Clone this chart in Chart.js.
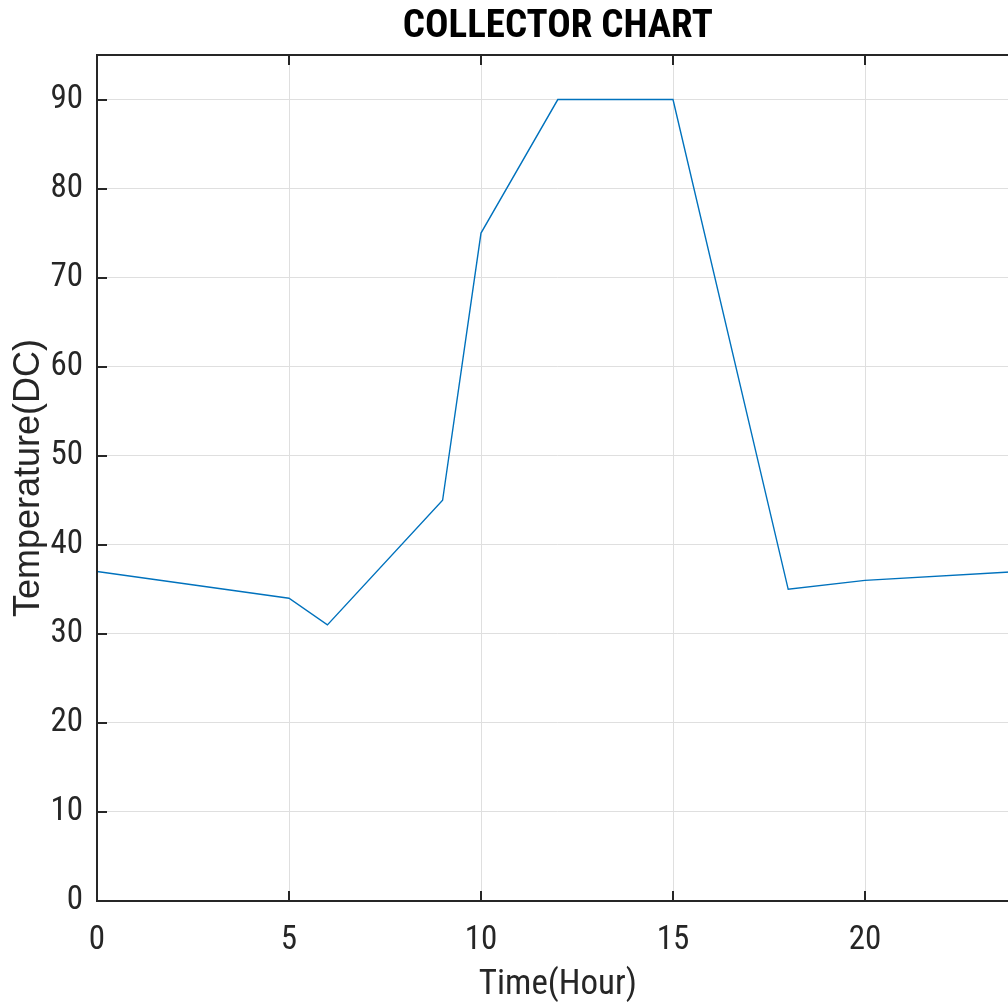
<!DOCTYPE html>
<html>
<head>
<meta charset="utf-8">
<script src="https://cdn.jsdelivr.net/npm/chart.js@4.4.1/dist/chart.umd.min.js"></script>
<style>
  html, body { margin: 0; padding: 0; background: #fff; overflow: hidden; }
  #wrap { width: 1008px; height: 1005px; overflow: hidden; }
</style>
</head>
<body>
<div id="wrap"><canvas id="collectorChart" width="1020" height="1005"></canvas></div>
<script>
// collector temperature over the day
const hours = [0, 5, 6, 9, 10, 12, 15, 18, 20, 24];
const temps = [37, 34, 31, 45, 75, 90, 90, 35, 36, 37];
const xTicks = [0, 5, 10, 15, 20];
const yTicks = [0, 10, 20, 30, 40, 50, 60, 70, 80, 90];

const FONT = "'Roboto Condensed', 'Liberation Sans Narrow', Roboto, sans-serif";
const INK = '#262626';

// box + inward tick marks, matlab style
const frame = {
    id: 'frame',
    afterDraw(chart) {
        const { ctx, chartArea: a, scales } = chart;
        const len = 10;
        ctx.save();
        ctx.strokeStyle = INK;
        ctx.lineWidth = 2;
        ctx.beginPath();
        xTicks.forEach(v => {
            const px = Math.round(scales.x.getPixelForValue(v));
            ctx.moveTo(px, a.bottom); ctx.lineTo(px, a.bottom - len);
            ctx.moveTo(px, a.top); ctx.lineTo(px, a.top + len);
        });
        yTicks.forEach(v => {
            const py = Math.round(scales.y.getPixelForValue(v));
            ctx.moveTo(a.left, py); ctx.lineTo(a.left + len, py);
        });
        ctx.stroke();
        ctx.strokeRect(a.left, a.top, a.right - a.left, a.bottom - a.top);
        ctx.restore();
    }
};

new Chart(document.getElementById('collectorChart'), {
    type: 'line',
    data: {
        datasets: [{
            data: hours.map((h, i) => ({ x: h, y: temps[i] })),
            borderColor: '#0072BD',
            borderWidth: 1.4,
            pointRadius: 0,
            tension: 0,
            fill: false
        }]
    },
    options: {
        responsive: false,
        animation: false,
        devicePixelRatio: 1,
        layout: { padding: { left: 0, right: 1.4, top: 0, bottom: 0 } },
        plugins: {
            legend: { display: false },
            tooltip: { enabled: false },
            title: {
                display: true,
                fullSize: false,
                text: 'COLLECTOR CHART',
                color: '#000',
                font: { family: FONT, size: 39, weight: 'bold', lineHeight: 1.0 },
                padding: { top: 8, bottom: 8 }
            }
        },
        scales: {
            x: {
                type: 'linear',
                min: 0,
                max: 24,
                afterFit(scale) { scale.height = 104; },
                ticks: {
                    stepSize: 5,
                    includeBounds: false,
                    color: INK,
                    padding: 20,
                    font: { family: FONT, size: 33 }
                },
                grid: { color: '#dfdfdf', lineWidth: 1, drawTicks: false },
                border: { display: false },
                title: {
                    display: true,
                    text: 'Time(Hour)',
                    color: INK,
                    font: { family: FONT, size: 35, lineHeight: 1.0 },
                    padding: { top: 0, bottom: 2 }
                }
            },
            y: {
                min: 0,
                max: 95,
                afterFit(scale) { scale.width = 97; },
                ticks: {
                    stepSize: 10,
                    includeBounds: false,
                    color: INK,
                    padding: 14,
                    font: { family: FONT, size: 33 }
                },
                grid: { color: '#dfdfdf', lineWidth: 1, drawTicks: false },
                border: { display: false },
                title: {
                    display: true,
                    text: 'Temperature(DC)',
                    color: INK,
                    font: { family: "'Liberation Sans', Arial, sans-serif", size: 36, lineHeight: 1.0 },
                    padding: { top: 11, bottom: 0 }
                }
            }
        }
    },
    plugins: [frame]
});
</script>
</body>
</html>
